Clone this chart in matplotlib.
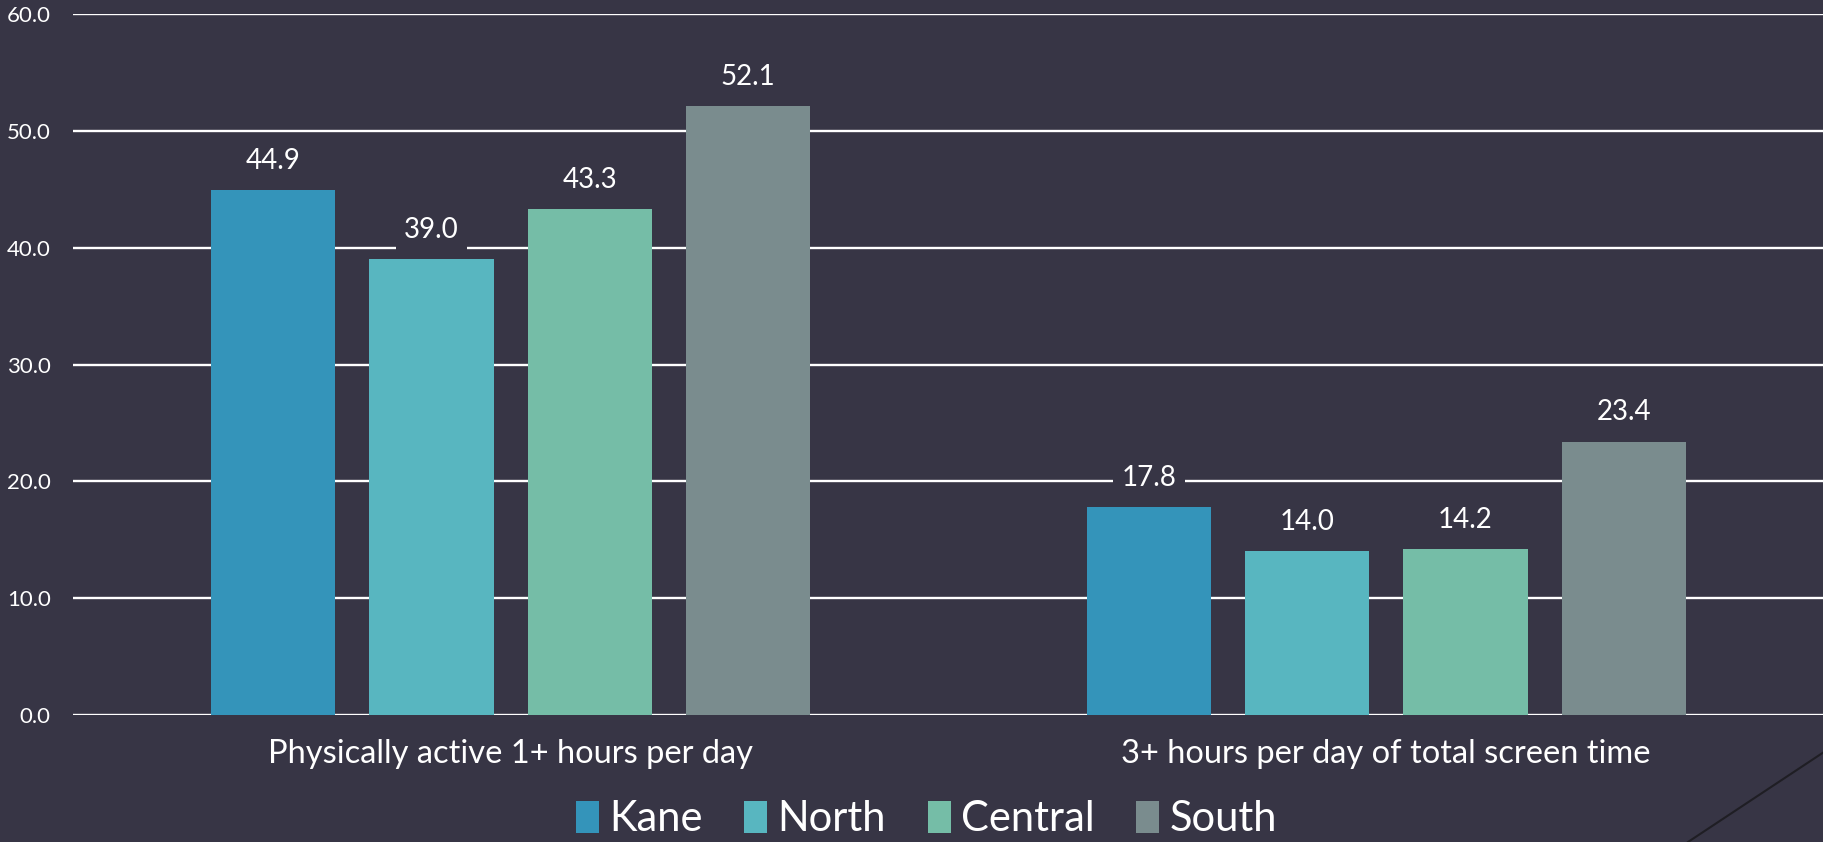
import matplotlib.pyplot as plt
import numpy as np
from matplotlib.lines import Line2D

categories = ["Physically active 1+ hours per day", "3+ hours per day of total screen time"]
series = ["Kane", "North", "Central", "South"]
values = {
    "Kane": [44.9, 17.8],
    "North": [39.0, 14.0],
    "Central": [43.3, 14.2],
    "South": [52.1, 23.4],
}
colors = ["#3494BA", "#58B6C0", "#75BDA7", "#7A8C8E"]
yticks = [0, 10, 20, 30, 40, 50, 60]

bg = "#373545"
plt.rcParams["font.family"] = ["Lato", "DejaVu Sans"]

fig = plt.figure(figsize=(18.24, 8.42), dpi=100, facecolor=bg)
ax = fig.add_axes([0.040, 0.1508, 0.960, 0.8326], facecolor=bg)

x = np.arange(len(categories))
pitch = 0.1808
width = 0.142
for i, name in enumerate(series):
    pos = x + (i - 1.5) * pitch
    bars = ax.bar(pos, values[name], width, color=colors[i], label=name, zorder=3)
    for b, v in zip(bars, values[name]):
        ax.annotate(f"{v:.1f}", (b.get_x() + b.get_width() / 2, v),
                    xytext=(0, 21), textcoords="offset points",
                    ha="center", va="center", color="white", fontsize=20,
                    bbox=dict(boxstyle="square,pad=0.3", fc=bg, ec="none"),
                    zorder=4)

ax.set_xlim(-0.5, 1.5)
ax.set_ylim(0, 60)
ax.set_yticks(yticks)
ax.set_yticklabels([f"{t:.1f}" for t in yticks])
ax.yaxis.grid(True, color="white", linewidth=1.7, zorder=0)
ax.set_axisbelow(True)
ax.set_xticks(x)
ax.set_xticklabels(categories)
ax.tick_params(axis="y", length=0, pad=16, labelsize=16, labelcolor="white")
ax.tick_params(axis="x", length=0, pad=17, labelsize=23.5, labelcolor="white")
for s in ax.spines.values():
    s.set_visible(False)

fig.legend(loc="center", bbox_to_anchor=(0.508, 0.027), ncol=4, frameon=False,
           fontsize=30, labelcolor="white", handlelength=0.55, handleheight=0.8,
           handletextpad=0.25, columnspacing=1.0)

fig.add_artist(Line2D([1688 / 1824, 1.0], [0, 90 / 842], transform=fig.transFigure,
                      color="#1f1e24", linewidth=1.5))

fig.savefig("out.png", dpi=100, facecolor=bg)
